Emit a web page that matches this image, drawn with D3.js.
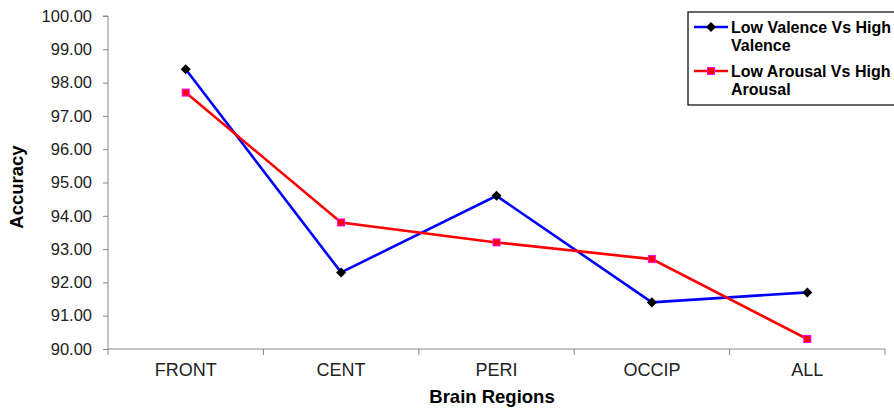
<!DOCTYPE html>
<html><head><meta charset="utf-8">
<script src="https://cdn.jsdelivr.net/npm/d3@7"></script>
<style>body{margin:0;background:#fff;} svg{display:block;font-family:"Liberation Sans",Arial,sans-serif;}</style>
</head><body>
<svg id="c" width="894" height="408"></svg>
<script>
const categories = ["FRONT","CENT","PERI","OCCIP","ALL"];
const valence = [98.4, 92.3, 94.6, 91.4, 91.7];
const arousal = [97.7, 93.8, 93.2, 92.7, 90.3];
const yTicks = [90,91,92,93,94,95,96,97,98,99,100];
const seriesNames = ["Low Valence Vs High Valence","Low Arousal Vs High Arousal"];

const svg = d3.select("#c");
const L = 108, R = 885, T = 16, B = 349;
const x = d3.scaleBand().domain(categories).range([L, R]);
const y = d3.scaleLinear().domain([90,100]).range([B, T]);

// y axis
const ya = svg.append("g").attr("transform",`translate(${L},0)`)
  .call(d3.axisLeft(y).tickValues(yTicks).tickFormat(d3.format(".2f")).tickSize(5).tickPadding(11));
ya.select(".domain").attr("stroke","#888").attr("d",`M-5,${T}H0V${B}`);
ya.selectAll(".tick line").attr("stroke","#888");
ya.selectAll(".tick text").attr("font-size",16.5).attr("fill","#222").attr("font-family","Liberation Sans, Arial");

// x axis
const xa = svg.append("g").attr("transform",`translate(0,${B})`);
xa.append("line").attr("x1",L).attr("x2",R).attr("stroke","#888");
const bounds = categories.map(c=>x(c)).concat([R]);
xa.selectAll("line.t").data(bounds).enter().append("line").attr("class","t")
  .attr("x1",d=>d).attr("x2",d=>d).attr("y1",0).attr("y2",6).attr("stroke","#888");
xa.selectAll("text").data(categories).enter().append("text")
  .attr("x",d=>x(d)+x.bandwidth()/2).attr("y",27).attr("text-anchor","middle")
  .attr("font-size",18).attr("fill","#222").text(d=>d);

// titles
svg.append("text").attr("x",492).attr("y",403).attr("text-anchor","middle")
  .attr("font-size",18.5).attr("font-weight","bold").text("Brain Regions");
svg.append("text").attr("transform","translate(23,187) rotate(-90)").attr("text-anchor","middle")
  .attr("font-size",18.5).attr("font-weight","bold").text("Accuracy");

const cx = d => x(d)+x.bandwidth()/2;
const line = d3.line().x((d,i)=>cx(categories[i])).y(d=>y(d));

svg.append("path").datum(valence).attr("d",line).attr("fill","none").attr("stroke","#0000ff").attr("stroke-width",2.6);
svg.append("path").datum(arousal).attr("d",line).attr("fill","none").attr("stroke","#ff0000").attr("stroke-width",2.6);

const diamond = d3.symbol().type(d3.symbolDiamond2).size(64);
svg.selectAll("path.vm").data(valence).enter().append("path").attr("class","vm")
  .attr("d",diamond).attr("transform",(d,i)=>`translate(${cx(categories[i])},${y(d)})`)
  .attr("fill","#000");
svg.selectAll("rect.am").data(arousal).enter().append("rect").attr("class","am")
  .attr("x",(d,i)=>cx(categories[i])-3.5).attr("y",d=>y(d)-3.5).attr("width",7).attr("height",7)
  .attr("fill","#ff0000").attr("stroke","#ff00ff").attr("stroke-width",1);

// legend
const lg = svg.append("g");
lg.append("rect").attr("x",688).attr("y",12).attr("width",220).attr("height",93)
  .attr("fill","#fff").attr("stroke","#000").attr("stroke-width",1.2);
const lines1 = [["Low Valence Vs High","Valence"],["Low Arousal Vs High","Arousal"]];
[0,1].forEach(i=>{
  const yy = 27 + i*44;
  lg.append("line").attr("x1",694).attr("x2",728).attr("y1",yy).attr("y2",yy)
    .attr("stroke", i==0?"#0000ff":"#ff0000").attr("stroke-width",2.6);
  if(i==0) lg.append("path").attr("d",diamond).attr("transform",`translate(711,${yy})`).attr("fill","#000");
  else lg.append("rect").attr("x",707.5).attr("y",yy-3.5).attr("width",7).attr("height",7).attr("fill","#ff0000").attr("stroke","#ff00ff");
  lines1[i].forEach((t,j)=>{
    lg.append("text").attr("x",731).attr("y",yy+5.5+j*18.5).attr("font-size",16).attr("font-weight","bold").text(t);
  });
});
</script>
</body></html>
